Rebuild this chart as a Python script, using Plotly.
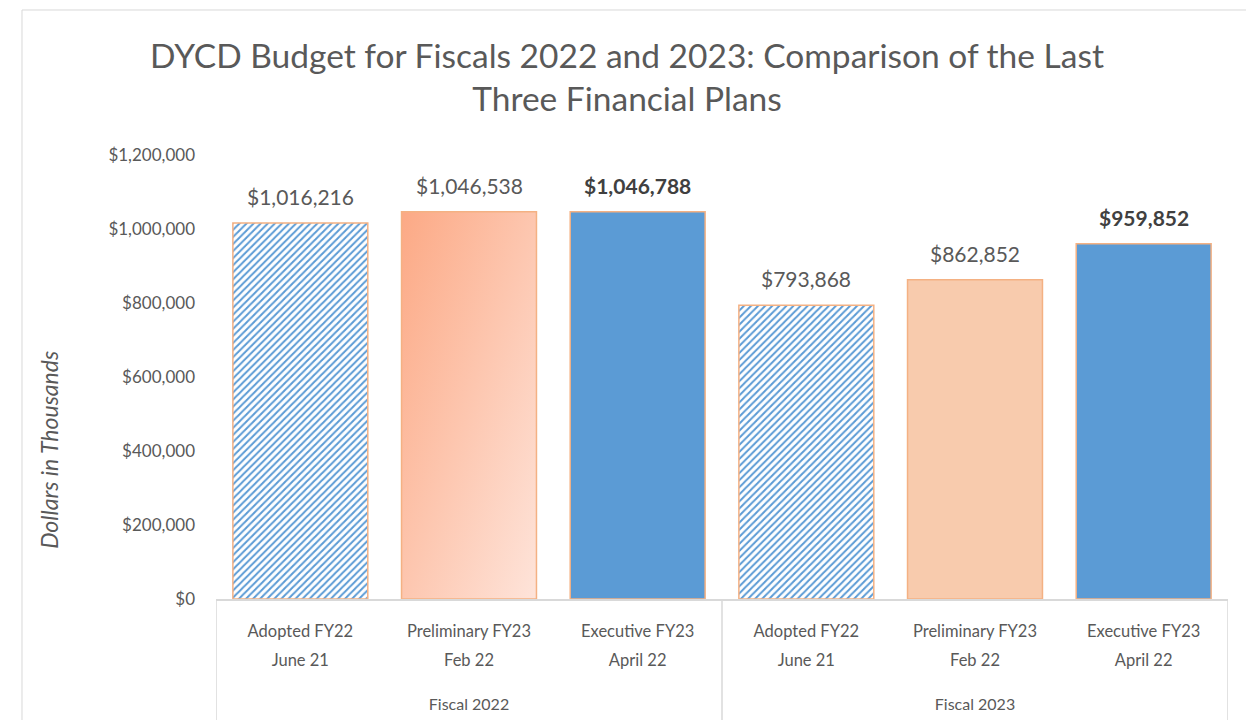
import base64
import plotly.graph_objects as go

# ---- data ----
groups = ["Fiscal 2022", "Fiscal 2022", "Fiscal 2022", "Fiscal 2023", "Fiscal 2023", "Fiscal 2023"]
plan_names = ["Adopted FY22", "Preliminary FY23", "Executive FY23",
              "Adopted FY22", "Preliminary FY23", "Executive FY23"]
plan_dates = ["June 21", "Feb 22", "April 22", "June 21", "Feb 22", "April 22"]
values = [1016216, 1046538, 1046788, 793868, 862852, 959852]
bold_flags = [False, False, True, False, False, True]
y_ticks = [0, 200000, 400000, 600000, 800000, 1000000, 1200000]

# ---- styles ----
fill_colors = ["white", "rgba(0,0,0,0)", "#5B9BD5", "white", "#F8CBAD", "#5B9BD5"]
hatched = [True, False, False, True, False, False]
gradient_flags = [False, True, False, False, False, False]
LINE_C = "#F4B183"
HATCH_C = "#5B9BD5"
FONT = "Lato"
TXT = "#595959"
bar_w = 0.8

idx = list(range(len(values)))
# group centres and boundaries derived from the group list
group_names, group_centres, boundaries = [], [], [-0.5]
start = 0
for i in range(1, len(groups) + 1):
    if i == len(groups) or groups[i] != groups[start]:
        group_names.append(groups[start])
        group_centres.append((start + i - 1) / 2)
        boundaries.append(i - 0.5)
        start = i

h_idx = [i for i in idx if hatched[i]]
s_idx = [i for i in idx if not hatched[i]]

fig = go.Figure()
# hatched bars (Adopted plans)
fig.add_trace(go.Bar(
    x=h_idx,
    y=[values[i] for i in h_idx],
    width=bar_w,
    marker=dict(
        color="white",
        line=dict(color=LINE_C, width=1.5),
        pattern=dict(shape="/", fgcolor=HATCH_C, bgcolor="white", fgopacity=1,
                     size=5, solidity=0.4, fillmode="replace"),
    ),
    hoverinfo="skip",
    showlegend=False,
))
# solid bars
fig.add_trace(go.Bar(
    x=s_idx,
    y=[values[i] for i in s_idx],
    width=bar_w,
    marker=dict(color=[fill_colors[i] for i in s_idx], line=dict(color=LINE_C, width=1.5)),
    hoverinfo="skip",
    showlegend=False,
))
# invisible companions so the secondary label axes are drawn
for ax in ["x2", "x3"]:
    fig.add_trace(go.Scatter(x=idx, y=values, xaxis=ax, yaxis="y", mode="none",
                             hoverinfo="skip", showlegend=False))

# value labels above bars
for i, (v, b) in enumerate(zip(values, bold_flags)):
    t = f"${v:,}"
    if b:
        t = f"<b>{t}</b>"
    fig.add_annotation(x=i, y=v, xref="x", yref="y", text=t, showarrow=False,
                       yanchor="bottom", yshift=12,
                       font=dict(family=FONT, size=21, color="#404040" if b else TXT))

# gradient fill for the preliminary FY22 bar
svg = ('<svg xmlns="http://www.w3.org/2000/svg" width="100" height="100" preserveAspectRatio="none">'
       '<defs><linearGradient id="g" x1="0" y1="0" x2="1" y2="1">'
       '<stop offset="0" stop-color="#FCA985"/><stop offset="1" stop-color="#FEE4DA"/>'
       '</linearGradient></defs><rect width="100" height="100" fill="url(#g)"/></svg>')
src = "data:image/svg+xml;base64," + base64.b64encode(svg.encode()).decode()
for i, (v, g) in enumerate(zip(values, gradient_flags)):
    if g:
        fig.add_layout_image(source=src, xref="x", yref="y", x=i - bar_w / 2, y=v,
                             sizex=bar_w, sizey=v, xanchor="left", yanchor="top",
                             sizing="stretch", layer="below")

# outer chart frame
fig.add_shape(type="rect", xref="paper", yref="paper", x0=-0.1917, x1=1.0198, y0=-0.40, y1=1.3266,
              line=dict(color="#D9D9D9", width=1), fillcolor="rgba(0,0,0,0)", layer="below")

# category dividers
for bx in boundaries:
    fig.add_shape(type="line", xref="x", yref="paper", x0=bx, x1=bx, y0=0, y1=-0.2725,
                  line=dict(color="#D9D9D9", width=1.5))

# y-axis title
fig.add_annotation(xref="paper", yref="paper", x=-0.165, y=0.336, text="<i>Dollars in Thousands</i>",
                   textangle=-90, showarrow=False, xanchor="center", yanchor="middle",
                   font=dict(family=FONT, size=23, color=TXT))

fig.update_layout(
    width=1238, height=712,
    margin=dict(l=208, r=18, t=147, b=121),
    paper_bgcolor="white", plot_bgcolor="white",
    title=dict(text="DYCD Budget for Fiscals 2022 and 2023: Comparison of the Last<br>Three Financial Plans",
               x=0.5, xanchor="center", xref="container", y=0.916, yanchor="top", yref="container",
               font=dict(family=FONT, size=33.5, color=TXT)),
    font=dict(family=FONT, size=17, color=TXT),
    barmode="overlay",
)
xr = [-0.5, len(values) - 0.5]
fig.update_layout(
    yaxis=dict(range=[0, 1200000], tickvals=y_ticks, ticktext=[f"${t:,}" for t in y_ticks],
               showgrid=False, zeroline=False, showline=False, ticks="",
               ticklabelstandoff=20, tickfont=dict(family=FONT, size=17, color=TXT), automargin=False),
    xaxis=dict(range=xr, tickvals=idx, ticktext=plan_names, showline=True, linecolor="#D9D9D9",
               linewidth=1.5, ticks="", showgrid=False, zeroline=False, automargin=False,
               ticklabelstandoff=16, tickfont=dict(family=FONT, size=16.5, color=TXT)),
    xaxis2=dict(range=xr, overlaying="x", anchor="y", side="bottom", tickvals=idx, ticktext=plan_dates,
                showline=False, ticks="", showgrid=False, zeroline=False, automargin=False,
                ticklabelstandoff=49, tickfont=dict(family=FONT, size=16.5, color=TXT)),
    xaxis3=dict(range=xr, overlaying="x", anchor="y", side="bottom", tickvals=group_centres,
                ticktext=group_names, showline=False, ticks="", showgrid=False, zeroline=False,
                automargin=False, ticklabelstandoff=94, tickfont=dict(family=FONT, size=16, color=TXT)),
)

fig.write_html("out.html")
